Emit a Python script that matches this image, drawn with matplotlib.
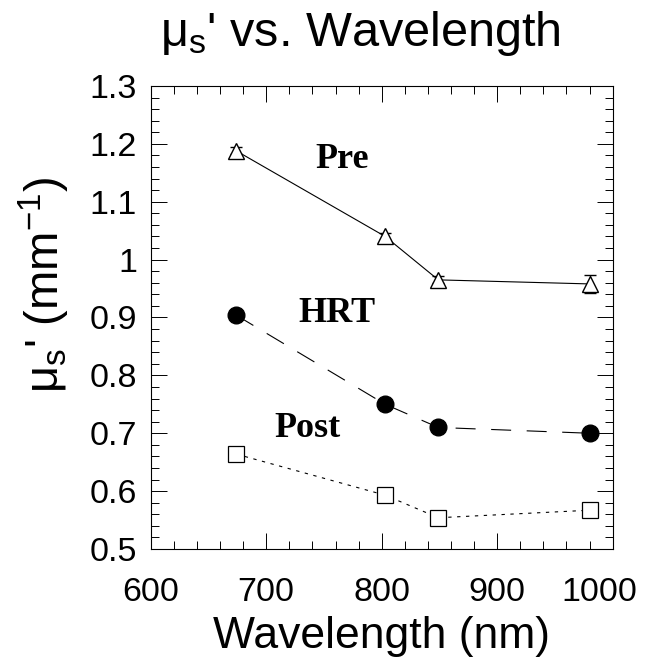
import matplotlib
matplotlib.use('Agg')
import matplotlib.pyplot as plt
from matplotlib.ticker import MultipleLocator, FormatStrFormatter

plt.rcParams['font.family'] = ['Liberation Sans', 'DejaVu Sans']
plt.rcParams['mathtext.fontset'] = 'custom'
plt.rcParams['mathtext.rm'] = 'Liberation Sans'
plt.rcParams['mathtext.it'] = 'Liberation Sans'
plt.rcParams['mathtext.default'] = 'regular'

# Data
wavelength = [674, 803, 849, 980]

pre = [1.188, 1.040, 0.965, 0.958]
pre_err = [0.006, 0.006, 0.006, 0.016]

hrt = [0.904, 0.750, 0.710, 0.700]
hrt_err = [0.004, 0.004, 0.004, 0.004]

post = [0.664, 0.593, 0.554, 0.567]
post_err = [0.002, 0.003, 0.002, 0.009]

xticks = [600, 700, 800, 900, 1000]

fig = plt.figure(figsize=(6.48, 6.64), dpi=100)
ax = fig.add_axes([0.2326, 0.1732, 0.7129, 0.6973])

ax.errorbar(wavelength, pre, yerr=pre_err, fmt='^-', color='black', mfc='white',
            mec='black', ms=12, mew=1.0, lw=0.8, elinewidth=0.8, capsize=4, capthick=0.8)
ax.errorbar(wavelength, hrt, yerr=hrt_err, fmt='o', ls=(0, (18, 14)), color='black',
            ms=12, lw=0.8, elinewidth=0.8, capsize=3, capthick=0.8)
ax.errorbar(wavelength, post, yerr=post_err, fmt='s', ls=(0, (3, 5)), color='black',
            mfc='white', mec='black', ms=11, mew=0.9, lw=0.8, elinewidth=0.8,
            capsize=4, capthick=0.8)

lab_font = dict(family=['Liberation Serif', 'DejaVu Serif'], weight='bold', size=26,
                ha='center', va='baseline')
ax.text(766, 1.158, 'Pre', **lab_font)
ax.text(761, 0.893, 'HRT', **lab_font)
ax.text(736, 0.694, 'Post', **lab_font)

ax.set_xlim(600, 1000)
ax.set_ylim(0.5, 1.3)
ax.set_xticks(xticks)
# the last label is pulled in from the edge, like in the original
ax.set_xticklabels([str(t) for t in xticks[:-1]] + [''])
ax.annotate(str(xticks[-1]), xy=(xticks[-1], 0), xycoords=('data', 'axes fraction'),
            xytext=(-9.5, -20), textcoords='offset points', ha='center', va='top',
            fontsize=24.5)
ax.xaxis.set_minor_locator(MultipleLocator(20))
ax.yaxis.set_major_locator(MultipleLocator(0.1))
ax.yaxis.set_minor_locator(MultipleLocator(0.02))
ax.yaxis.set_major_formatter(FormatStrFormatter('%g'))

ax.tick_params(which='both', direction='in', top=True, right=True, width=0.7)
ax.tick_params(which='major', length=11.5, labelsize=24.5)
ax.tick_params(which='minor', length=5.5)
ax.tick_params(axis='x', which='major', pad=20)
ax.tick_params(axis='y', which='major', pad=10)
for s in ax.spines.values():
    s.set_linewidth(0.8)

ax.set_xlabel('Wavelength (nm)', fontsize=32, labelpad=6)
ax.set_ylabel("$\\mu_s$' (mm$^{-1}$)", fontsize=34, labelpad=2)
ax.yaxis.set_label_coords(-0.17, 0.57)

fig.text(0.556, 0.93, "$\\mu_s$' vs. Wavelength", fontsize=35, ha='center', va='baseline')

fig.savefig('out.png', dpi=100)
